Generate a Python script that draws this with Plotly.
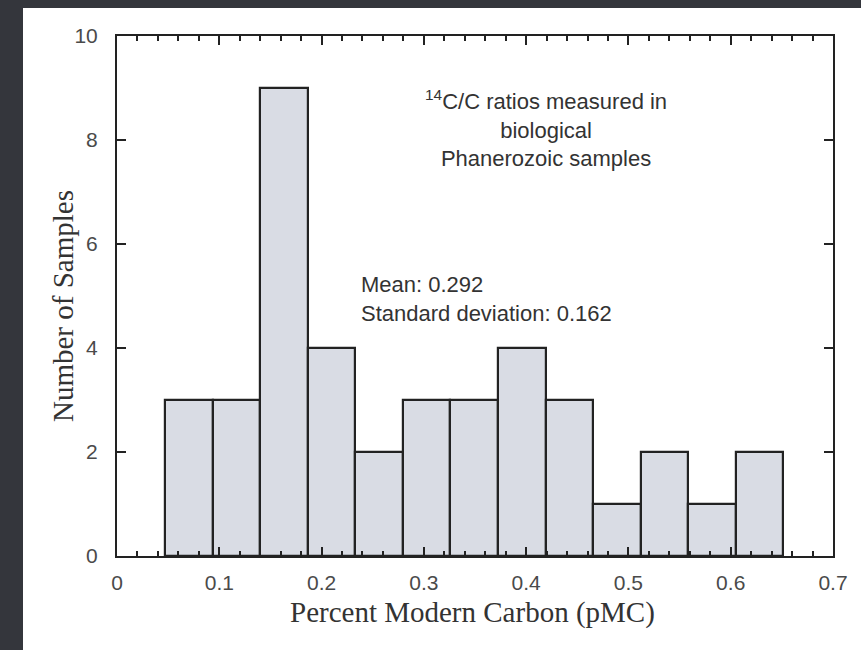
import plotly.graph_objects as go

# Data
bin_edges = [0.047, 0.0935, 0.140, 0.1865, 0.233, 0.2795, 0.326, 0.3725, 0.419, 0.4655, 0.512, 0.5585, 0.605, 0.6515]
counts = [3, 3, 9, 4, 2, 3, 3, 4, 3, 1, 2, 1, 2]
x_ticks = [0, 0.1, 0.2, 0.3, 0.4, 0.5, 0.6, 0.7]
x_tick_labels = ["0", "0.1", "0.2", "0.3", "0.4", "0.5", "0.6", "0.7"]
y_ticks = [0, 2, 4, 6, 8, 10]

centers = [(a + b) / 2 for a, b in zip(bin_edges[:-1], bin_edges[1:])]
widths = [b - a for a, b in zip(bin_edges[:-1], bin_edges[1:])]

W, H = 861, 650
L, R, T, B = 117, 28, 36, 94
pw, ph = W - L - R, H - T - B

def px2paper_x(px):
    return (px - L) / pw

def px2paper_y(py):
    return 1 - (py - T) / ph

SANS = "Liberation Sans, Arial, Helvetica, sans-serif"
SERIF = "Liberation Serif, Times New Roman, serif"

fig = go.Figure()
fig.add_trace(go.Bar(
    x=centers, y=counts, width=widths,
    marker=dict(color="#d9dce4", line=dict(color="#222222", width=2.2)),
    showlegend=False,
))

axis_common = dict(
    showline=True, linecolor="#222222", linewidth=2,
    ticks="inside", tickcolor="#222222", tickwidth=2, ticklen=9,
    mirror="ticks", showgrid=False, zeroline=False,
    tickfont=dict(family=SANS, size=21, color="#4a4a4a"),
)

fig.update_xaxes(
    range=[0, 0.7], tickvals=x_ticks, ticktext=x_tick_labels,
    minor=dict(dtick=0.02, ticks="inside", ticklen=5, tickwidth=2, tickcolor="#222222", showgrid=False),
    ticklabelstandoff=7,
    **axis_common,
)
fig.update_yaxes(
    range=[0, 10], tickvals=y_ticks,
    ticklabelstandoff=13,
    **axis_common,
)

# white page over dark border
fig.add_shape(type="rect", xref="paper", yref="paper", layer="below",
              x0=px2paper_x(23), x1=px2paper_x(W + 5), y0=px2paper_y(H + 5), y1=px2paper_y(8),
              fillcolor="white", line=dict(width=0))

# axis titles
fig.add_annotation(
    x=px2paper_x(472), y=px2paper_y(612), xref="paper", yref="paper",
    text="Percent Modern Carbon (pMC)", showarrow=False,
    xanchor="center", yanchor="middle",
    font=dict(family=SERIF, size=29, color="#333333"),
)
fig.add_annotation(
    x=px2paper_x(63), y=px2paper_y(306), xref="paper", yref="paper",
    text="Number of Samples", showarrow=False, textangle=-90,
    xanchor="center", yanchor="middle",
    font=dict(family=SERIF, size=29, color="#333333"),
)

fig.add_annotation(
    x=px2paper_x(546), y=px2paper_y(84), xref="paper", yref="paper",
    text="<sup>14</sup>C/C ratios measured in<br>biological<br>Phanerozoic samples",
    showarrow=False, align="center", xanchor="center", yanchor="top",
    font=dict(family=SANS, size=22, color="#333333"),
)
fig.add_annotation(
    x=px2paper_x(359), y=px2paper_y(270), xref="paper", yref="paper",
    text="Mean: 0.292<br>Standard deviation: 0.162",
    showarrow=False, align="left", xanchor="left", yanchor="top",
    font=dict(family=SANS, size=22, color="#333333"),
)

fig.update_layout(
    width=W, height=H,
    margin=dict(l=L, r=R, t=T, b=B),
    paper_bgcolor="#34363c",
    plot_bgcolor="white",
    bargap=0,
)

fig.write_html("out.html")
